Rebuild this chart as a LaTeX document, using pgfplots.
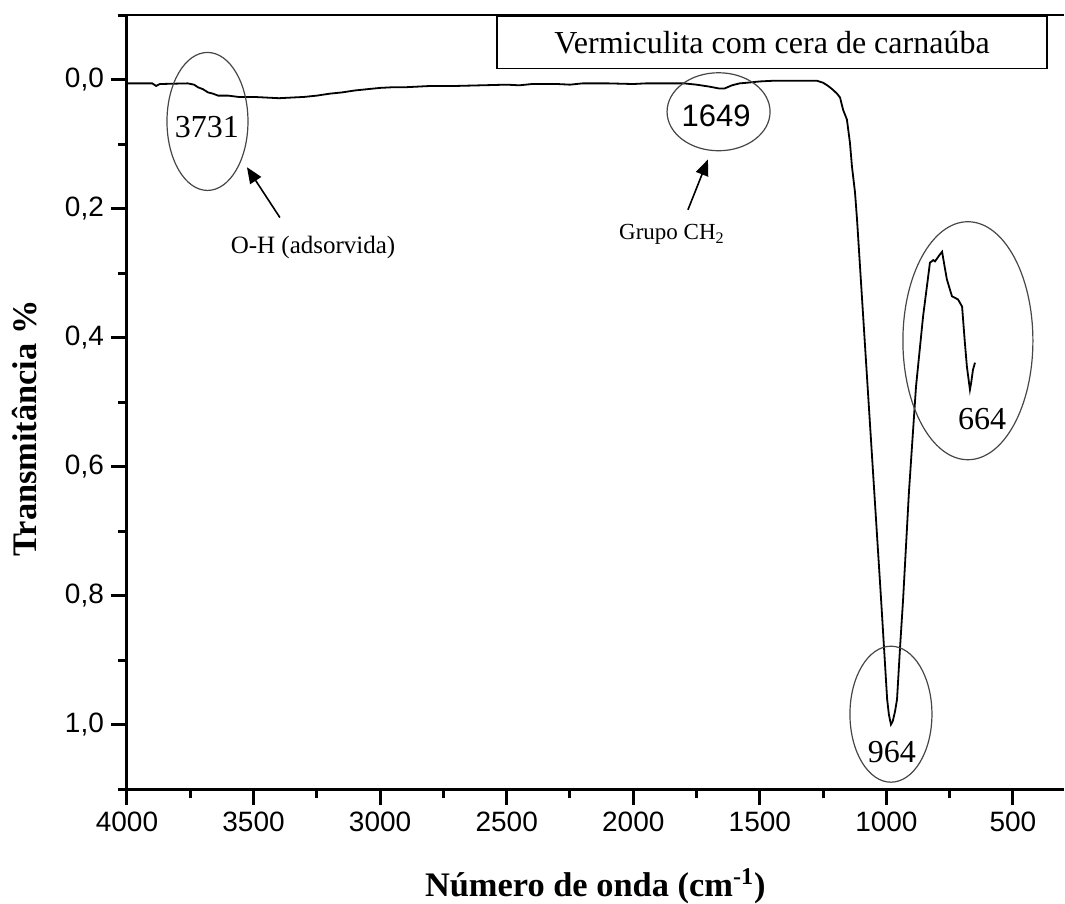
\documentclass[border=0pt]{standalone}
\usepackage{fontspec}
\setmainfont{Liberation Serif}
\newfontfamily\arial{Liberation Sans}
\usepackage{pgfplots}
\pgfplotsset{compat=1.18}
\usetikzlibrary{arrows.meta}
\definecolor{ellgray}{RGB}{70,70,70}
\begin{document}
\begin{tikzpicture}
\begin{axis}[
  scale only axis, width=468.3pt, height=387pt,
  x dir=reverse, y dir=reverse,
  xmin=300, xmax=4000, ymin=-0.1, ymax=1.1,
  clip=false,
  axis line style={draw=none},
  xtick={500,1000,1500,2000,2500,3000,3500,4000},
  minor xtick={750,1250,1750,2250,2750,3250,3750},
  ytick={0,0.2,0.4,0.6,0.8,1.0},
  minor ytick={-0.1,0.1,0.3,0.5,0.7,0.9,1.1},
  xtick pos=bottom, ytick pos=left,
  tick align=outside,
  major tick length=8pt, minor tick length=4.5pt,
  every tick/.append style={black, line width=1.5pt},
  /pgf/number format/assume math mode=true,
  ticklabel style={font=\arial\fontsize{14}{16}\selectfont},
  yticklabel style={/pgf/number format/.cd, fixed, fixed zerofill, precision=1, use comma},
  xticklabel style={/pgf/number format/.cd, 1000 sep={}},
]
\addplot[black, line width=0.9pt] coordinates {
(4000,0.006) (3950,0.006) (3900,0.006) (3885,0.010) (3870,0.007) (3760,0.006)
(3735,0.008) (3720,0.012) (3700,0.015) (3680,0.020) (3660,0.022) (3640,0.025)
(3600,0.025) (3560,0.027) (3500,0.027) (3450,0.028) (3400,0.029) (3350,0.028)
(3300,0.027) (3250,0.025) (3200,0.022) (3150,0.020) (3100,0.017) (3050,0.015)
(3000,0.013) (2950,0.012) (2900,0.012) (2850,0.011) (2800,0.010) (2700,0.010)
(2600,0.009) (2500,0.008) (2450,0.009) (2400,0.007) (2300,0.007) (2250,0.008)
(2200,0.006) (2100,0.006) (2000,0.007) (1950,0.006) (1900,0.006) (1850,0.006)
(1800,0.006) (1750,0.008) (1700,0.011) (1660,0.014) (1640,0.014) (1610,0.009)
(1580,0.006) (1550,0.005) (1500,0.003) (1450,0.002) (1400,0.002) (1350,0.002)
(1300,0.002) (1274,0.002) (1250,0.005) (1230,0.010) (1211,0.016) (1195,0.022)
(1183,0.028) (1171,0.047) (1156,0.062) (1144,0.098) (1136,0.135) (1124,0.175)
(1116,0.217) (1096,0.341) (1071,0.496) (1046,0.651) (1021,0.806) (997,0.961)
(990,0.985) (982,1.000) (975,0.995) (966,0.980) (958,0.961) (946,0.880)
(934,0.806) (911,0.640) (883,0.476) (855,0.367) (828,0.284) (815,0.280)
(808,0.282) (790,0.272) (780,0.267) (770,0.290) (761,0.310) (741,0.336)
(717,0.341) (701,0.352) (690,0.408) (682,0.445) (670,0.481) (665,0.470)
(658,0.450) (650,0.439)
};
% frame lines
\draw[line width=1.5pt] (axis cs:4000,-0.1) -- (axis cs:4000,1.1) -- (axis cs:300,1.1);
\draw[line width=0.9pt] (axis cs:4000,-0.1) -- (axis cs:300,-0.1);
% title box
\draw[line width=0.8pt] (axis cs:2538,-0.098) rectangle (axis cs:366,-0.017);
\node[font=\fontsize{16}{18}\selectfont] at (axis cs:1452,-0.057) {Vermiculita com cera de carnaúba};
% ellipses
\draw[ellgray, line width=0.6pt] (axis cs:3682,0.065) ellipse [x radius=20.25pt, y radius=34.5pt];
\draw[ellgray, line width=0.6pt] (axis cs:1663,0.050) ellipse [x radius=25.75pt, y radius=19.5pt];
\draw[ellgray, line width=0.6pt] (axis cs:678,0.405) ellipse [x radius=32.5pt, y radius=59.5pt];
\draw[ellgray, line width=0.6pt] (axis cs:982,0.984) ellipse [x radius=20.5pt, y radius=34pt];
\node[font=\fontsize{16}{18}\selectfont] at (axis cs:3684,0.073) {3731};
\node[font=\arial\fontsize{15.5}{18}\selectfont] at (axis cs:1673,0.057) {1649};
\node[font=\fontsize{16}{18}\selectfont] at (axis cs:622,0.527) {664};
\node[font=\fontsize{16}{18}\selectfont] at (axis cs:978,1.042) {964};
% arrows
\draw[-{Triangle[length=8pt,width=6.5pt]}, line width=0.8pt] (axis cs:3396,0.214) -- (axis cs:3526,0.136);
\draw[-{Triangle[length=8pt,width=6.5pt]}, line width=0.8pt] (axis cs:1784,0.202) -- (axis cs:1705,0.124);
\node[font=\fontsize{12.5}{14}\selectfont] at (axis cs:3265,0.260) {O-H (adsorvida)};
\node[font=\fontsize{11.5}{14}\selectfont] at (axis cs:1847,0.240) {Grupo CH\textsubscript{2}};
% labels
\node[rotate=90, font=\bfseries\fontsize{17.2}{20}\selectfont] at ([xshift=-51pt]axis cs:4000,0.541) {Transmitância \%};
\node[font=\bfseries\fontsize{17.2}{20}\selectfont] at ([yshift=-48.5pt]axis cs:2150,1.1) {Número de onda (cm\textsuperscript{-1})};
\coordinate (BL) at (axis cs:4000,1.1);
\end{axis}
\pgfresetboundingbox
\path[use as bounding box] ([shift={(-63.5pt,-57.5pt)}]BL) rectangle ([shift={(469pt,394.5pt)}]BL);
\end{tikzpicture}
\end{document}
